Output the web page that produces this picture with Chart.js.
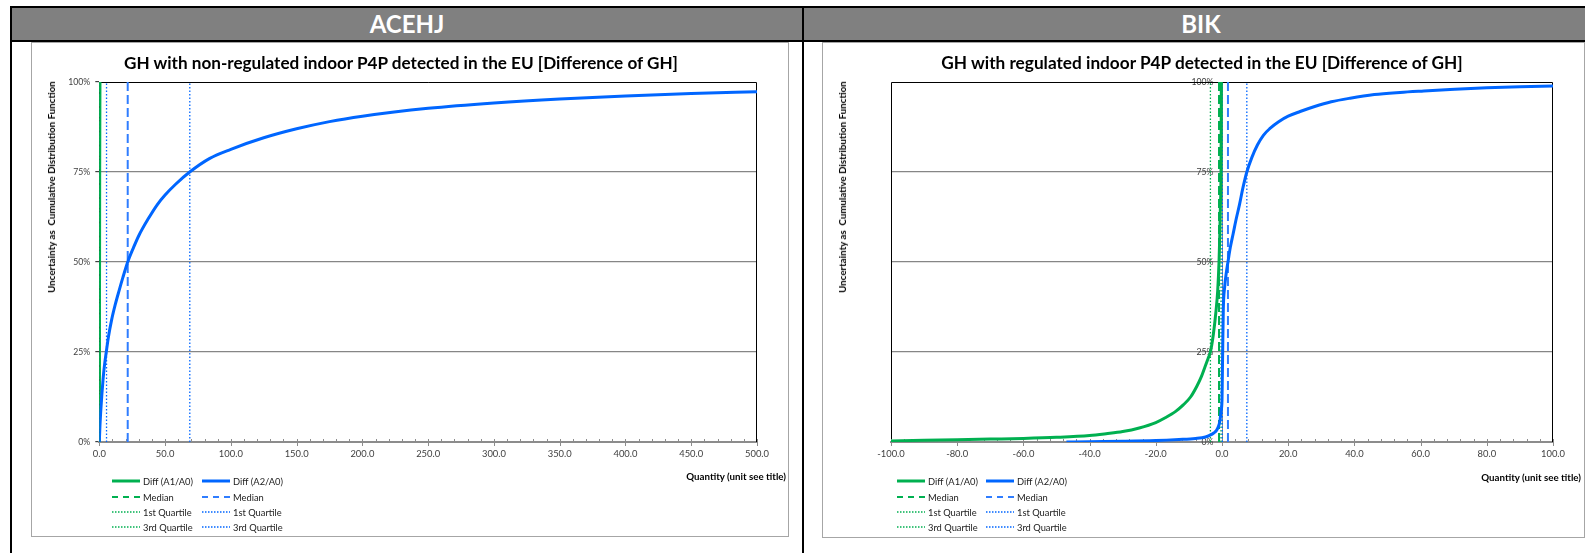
<!DOCTYPE html>
<html><head><meta charset="utf-8">
<script src="https://cdn.jsdelivr.net/npm/chart.js@4/dist/chart.umd.min.js"></script>
<style>
html,body{margin:0;padding:0;background:#fff;width:1585px;height:553px;overflow:hidden;font-family:Lato,'Liberation Sans',sans-serif;}
.blk{position:absolute;background:#000;}
.hdr{position:absolute;background:#808080;color:#fff;font-weight:bold;font-size:24px;text-align:center;line-height:32px;overflow:hidden;}
.box{position:absolute;border:1px solid #a6a6a6;box-sizing:border-box;}
.ttl{position:absolute;font-weight:bold;font-size:17.2px;color:#000;white-space:nowrap;transform:translate(-50%,-50%);}
.ytl{position:absolute;font-weight:bold;font-size:9.9px;color:#000;white-space:pre;transform:translate(-50%,-50%) rotate(-90deg);}
.xtl{position:absolute;font-weight:bold;font-size:9.7px;color:#000;white-space:nowrap;transform:translate(-100%,-50%);}
canvas{position:absolute;}
</style></head><body>
<div class="hdr" style="left:12px;top:8px;width:790px;height:32px;">ACEHJ</div>
<div class="hdr" style="left:804px;top:8px;width:794px;height:32px;">BIK</div>
<div class="blk" style="left:10px;top:6px;width:1575px;height:2px;"></div>
<div class="blk" style="left:10px;top:40px;width:1575px;height:2px;"></div>
<div class="blk" style="left:10px;top:6px;width:2px;height:547px;"></div>
<div class="blk" style="left:802px;top:6px;width:2px;height:547px;"></div>

<div class="box" style="left:31px;top:42px;width:758px;height:495px;"></div>
<div class="box" style="left:822px;top:42px;width:763px;height:496px;"></div>

<canvas id="c1" width="757" height="494" style="left:31px;top:42px;width:757px;height:494px;"></canvas>
<canvas id="c2" width="762" height="495" style="left:822px;top:42px;width:762px;height:495px;"></canvas>

<div class="ttl" id="t1" style="left:401px;top:62px;">GH with non-regulated indoor P4P detected in the EU [Difference of GH]</div>
<div class="ttl" id="t2" style="left:1202px;top:62px;">GH with regulated indoor P4P detected in the EU [Difference of GH]</div>
<div class="ytl" style="left:51px;top:187px;">Uncertainty as  Cumulative Distribution Function</div>
<div class="ytl" style="left:842px;top:187px;">Uncertainty as  Cumulative Distribution Function</div>
<div class="xtl" style="left:786px;top:476px;">Quantity (unit see title)</div>
<div class="xtl" style="left:1581px;top:477px;">Quantity (unit see title)</div>

<script>
// ---------- ACEHJ ----------
const acehjA1X = [0, 0.1, 0.2, 0.3, 0.5];
const acehjA1Y = [0, 0.25, 0.5, 0.75, 1.0];
const acehjA2X = [0, 0.5, 1, 2, 3, 4, 5.3, 7, 9.4, 12, 15, 18, 21.6, 26, 30, 37.2, 44, 50, 58, 68.7, 84, 100, 125, 150, 175, 200, 250, 300, 350, 400, 450, 500];
const acehjA2Y = [0, 0.045, 0.08, 0.135, 0.18, 0.215, 0.25, 0.293, 0.34, 0.38, 0.42, 0.458, 0.50, 0.54, 0.573, 0.62, 0.659, 0.686, 0.716, 0.75, 0.788, 0.813, 0.845, 0.87, 0.89, 0.905, 0.927, 0.942, 0.953, 0.961, 0.968, 0.973];
const acehjA1Quart = [0.1, 0.2, 0.3];      // Q1, median, Q3
const acehjA2Quart = [5.5, 21.6, 68.8];
const acehjXTicks = {min: 0, max: 500, major: 50, minor: 10};

// ---------- BIK ----------
const bikA1X = [-100, -90, -80, -70, -60, -50, -40, -35, -30, -25, -20, -17, -14, -11.7, -9.5, -7.6, -6.3, -5.1, -4.2, -3.5, -2.6, -1.8, -1.3, -0.9, -0.65, -0.5, -0.3, -0.25, -0.2];
const bikA1Y = [0.003, 0.005, 0.006, 0.008, 0.010, 0.013, 0.018, 0.023, 0.029, 0.039, 0.054, 0.068, 0.085, 0.103, 0.125, 0.155, 0.18, 0.21, 0.232, 0.25, 0.30, 0.365, 0.42, 0.50, 0.58, 0.65, 0.75, 0.86, 1.0];
const bikA2X = [-47, -40, -30, -20, -13, -8, -5, -3.6, -2.5, -1.6, -1.0, -0.6, -0.3, 0, 0.1, 0.2, 0.4, 0.8, 1.3, 1.8, 2.5, 3.4, 4.3, 5.3, 6.3, 7.5, 9, 10.7, 12.5, 14.5, 17, 20, 23.6, 28, 33, 38.7, 46, 53.8, 61, 68.9, 80, 90, 100];
const bikA2Y = [0, 0.001, 0.002, 0.004, 0.007, 0.010, 0.014, 0.019, 0.025, 0.033, 0.045, 0.06, 0.085, 0.117, 0.18, 0.25, 0.37, 0.43, 0.47, 0.50, 0.54, 0.58, 0.62, 0.66, 0.705, 0.75, 0.79, 0.825, 0.852, 0.871, 0.889, 0.905, 0.918, 0.932, 0.945, 0.955, 0.965, 0.971, 0.975, 0.979, 0.984, 0.987, 0.989];
const bikA1Quart = [-3.5, -0.9, -0.3];
const bikA2Quart = [0.1, 1.8, 7.5];
const bikXTicks = {min: -100, max: 100, major: 20, minor: 4};

const yTickValues = [0, 0.25, 0.5, 0.75, 1];
const legendLabels = ['Diff (A1/A0)', 'Diff (A2/A0)', 'Median', '1st Quartile', '3rd Quartile'];

const FAM = "Lato, 'Liberation Sans', sans-serif";
Chart.defaults.font.family = FAM;
Chart.defaults.color = '#404040';

// font sizing: fit sample strings to the widths measured on the reference
const mctx = document.createElement('canvas').getContext('2d');
function fitSize(text, weight, target) {
  mctx.font = weight + ' 100px ' + FAM;
  return 100 * target / mctx.measureText(text).width;
}
const legendSize = fitSize('Diff (A1/A0)', 'normal', 50);
const xTickSize = fitSize('100.0', 'normal', 24);
const yTickSize = fitSize('100%', 'normal', 22);
document.getElementById('t1').style.fontSize = fitSize(document.getElementById('t1').textContent, 'bold', 556) + 'px';
document.getElementById('t2').style.fontSize = fitSize(document.getElementById('t2').textContent, 'bold', 523) + 'px';
document.querySelectorAll('.ytl').forEach(e => e.style.fontSize = fitSize(e.textContent, 'bold', 212) + 'px');
document.querySelectorAll('.xtl').forEach(e => e.style.fontSize = fitSize(e.textContent, 'bold', 100) + 'px');

const GREEN = '#00B050', BLUE = '#0066FF', BLUE_D = '#2F7DFF';

const pts = (xs, ys) => xs.map((x, i) => ({x, y: ys[i]}));
const vline = v => [{x: v, y: 0}, {x: v, y: 1}];

function makeDatasets(a1x, a1y, a2x, a2y, q1, q2) {
  const cdf = {cubicInterpolationMode: 'monotone'};
  const list = [
    Object.assign({label: legendLabels[0], data: pts(a1x, a1y), borderColor: GREEN, borderWidth: 3, order: 1, leg: [0, 0], legW: 3, legDash: []}, cdf),
    Object.assign({label: legendLabels[1], data: pts(a2x, a2y), borderColor: BLUE, borderWidth: 3, order: 0, leg: [1, 0], legW: 3, legDash: []}, cdf),
    {label: legendLabels[2], data: vline(q1[1]), borderColor: GREEN, borderWidth: 2, borderDash: [9, 4], order: 3, leg: [0, 1], legW: 2, legDash: [6, 5]},
    {label: legendLabels[2], data: vline(q2[1]), borderColor: BLUE_D, borderWidth: 2, borderDash: [9, 4], order: 2, leg: [1, 1], legW: 2, legDash: [6, 5]},
    {label: legendLabels[3], data: vline(q1[0]), borderColor: GREEN, borderWidth: 1.3, borderDash: [1.5, 2], order: 5, leg: [0, 2], legW: 1.3, legDash: [1.5, 1.5]},
    {label: legendLabels[3], data: vline(q2[0]), borderColor: BLUE, borderWidth: 1.3, borderDash: [1.5, 2], order: 4, leg: [1, 2], legW: 1.3, legDash: [1.5, 1.5]},
    {label: legendLabels[4], data: vline(q1[2]), borderColor: GREEN, borderWidth: 1.3, borderDash: [1.5, 2], order: 7, leg: [0, 3], legW: 1.3, legDash: [1.5, 1.5]},
    {label: legendLabels[4], data: vline(q2[2]), borderColor: BLUE, borderWidth: 1.3, borderDash: [1.5, 2], order: 6, leg: [1, 3], legW: 1.3, legDash: [1.5, 1.5]}
  ];
  return list.map(d => Object.assign({showLine: true, pointRadius: 0, pointHoverRadius: 0, fill: false, tension: 0}, d));
}

const extras = {
  id: 'extras',
  beforeDatasetsDraw(chart, args, o) {
    const {ctx, chartArea: a} = chart;
    const x = chart.scales.x;
    ctx.save();
    ctx.strokeStyle = '#000';
    ctx.lineWidth = 1;
    ctx.beginPath();
    ctx.moveTo(a.left + 0.5, a.bottom);
    ctx.lineTo(a.left + 0.5, a.top + 0.5);
    ctx.lineTo(a.right - 0.5, a.top + 0.5);
    ctx.lineTo(a.right - 0.5, a.bottom);
    ctx.stroke();
    ctx.strokeStyle = '#8c8c8c';
    ctx.lineWidth = 1;
    ctx.beginPath();
    const n = Math.round((o.max - o.min) / o.minor);
    for (let i = 0; i <= n; i++) {
      const v = o.min + i * o.minor;
      const px = Math.round(x.getPixelForValue(v)) + 0.5;
      const r = v / o.major;
      const major = Math.abs(r - Math.round(r)) < 1e-6;
      ctx.moveTo(px, a.bottom - 3);
      ctx.lineTo(px, a.bottom + (major ? 4 : 0));
    }
    ctx.stroke();
    ctx.restore();
  },
  afterDraw(chart, args, o) {
    const ctx = chart.ctx;
    ctx.save();
    ctx.font = legendSize.toFixed(2) + 'px ' + FAM;
    ctx.textBaseline = 'middle';
    ctx.fillStyle = '#1a1a1a';
    chart.data.datasets.forEach(d => {
      const [c, r] = d.leg;
      const x0 = o.legX[c], y = o.legY[r];
      ctx.strokeStyle = d.borderColor;
      ctx.lineWidth = d.legW;
      ctx.setLineDash(d.legDash);
      ctx.beginPath();
      ctx.moveTo(x0, y);
      ctx.lineTo(x0 + 28, y);
      ctx.stroke();
      ctx.setLineDash([]);
      ctx.fillText(d.label, x0 + 31, y + 0.5);
    });
    ctx.restore();
  }
};

function build(id, datasets, xt, opt) {
  const left = opt.yPos === 'left';
  return new Chart(document.getElementById(id), {
    type: 'scatter',
    data: {datasets},
    plugins: [extras],
    options: {
      responsive: false, animation: false, devicePixelRatio: 1,
      layout: {padding: opt.padding},
      plugins: {
        legend: {display: false}, tooltip: {enabled: false}, title: {display: false},
        extras: {min: xt.min, max: xt.max, major: xt.major, minor: xt.minor, legX: opt.legX, legY: opt.legY}
      },
      scales: {
        x: {
          type: 'linear', min: xt.min, max: xt.max,
          afterFit: s => { s.height = 30; },
          ticks: {stepSize: xt.major, autoSkip: false, maxRotation: 0, padding: 6, font: {size: xTickSize}, color: '#404040',
                  callback: v => Number(v).toFixed(1)},
          grid: {display: false, drawTicks: false, tickLength: 0},
          border: {display: true, color: '#8c8c8c', width: 2}
        },
        y: {
          type: 'linear', min: 0, max: 1,
          position: left ? 'left' : {x: 0},
          afterFit: left ? (s => { s.width = 32; }) : undefined,
          afterBuildTicks: s => { s.ticks = yTickValues.map(v => ({value: v})); },
          ticks: {padding: left ? 5 : 0, font: {size: yTickSize}, color: '#404040',
                  // axis crossing at x = 0: keep a small gap between label and axis
                  callback: v => Math.round(v * 100) + '%' + (left ? '' : '\u2002\u2002')},
          grid: {
            color: c => (c.tick && [0.25, 0.5, 0.75].includes(c.tick.value)) ? '#868686' : 'rgba(0,0,0,0)',
            lineWidth: 1.2, drawTicks: left, tickLength: left ? 4 : 0, tickColor: '#404040'
          },
          border: {display: true, color: '#8c8c8c', width: 1}
        }
      }
    }
  });
}

build('c1', makeDatasets(acehjA1X, acehjA1Y, acehjA2X, acehjA2Y, acehjA1Quart, acehjA2Quart), acehjXTicks,
  {yPos: 'left', padding: {left: 36.3, top: 40, right: 31, bottom: 64}, legX: [81, 171], legY: [439, 455, 470, 485]});
build('c2', makeDatasets(bikA1X, bikA1Y, bikA2X, bikA2Y, bikA1Quart, bikA2Quart), bikXTicks,
  {yPos: 'center', padding: {left: 69, top: 40, right: 31, bottom: 65}, legX: [75, 164], legY: [439, 455, 470, 485]});
</script>
</body></html>
